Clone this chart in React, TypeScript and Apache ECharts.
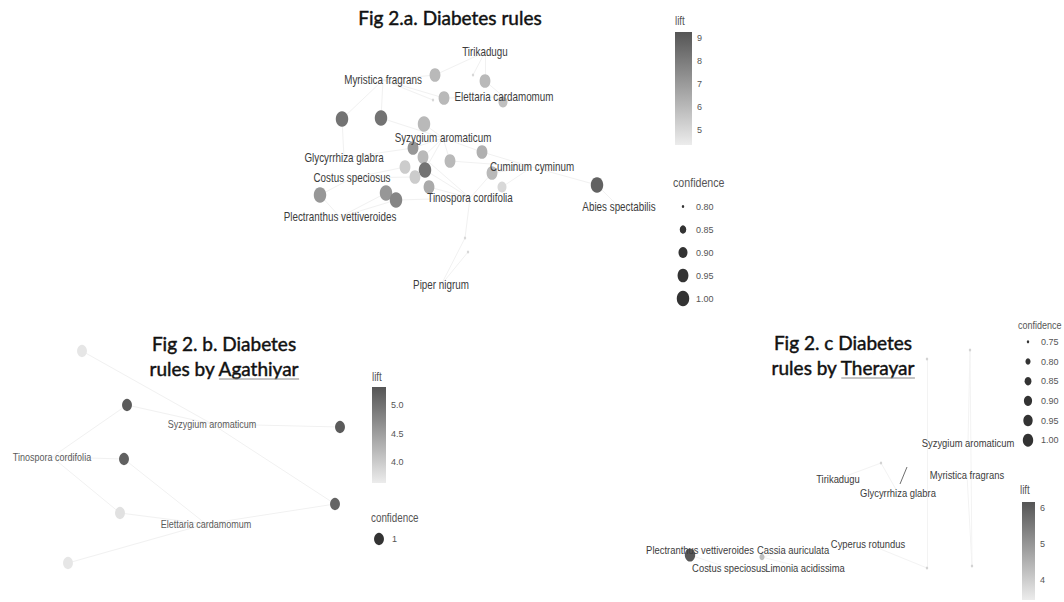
import React, { useEffect, useRef } from "react";
import * as echarts from "echarts";

const LABEL_FONT = "'Liberation Sans', Arial, sans-serif";
const TITLE_FONT = "Lato, 'Open Sans', sans-serif";
const SQUEEZE = 0.82;

// ---------- Panel A: Diabetes rules (layout units) ----------
const itemsA = [
  "Tirikadugu", "Myristica fragrans", "Elettaria cardamomum", "Syzygium aromaticum",
  "Glycyrrhiza glabra", "Cuminum cyminum", "Costus speciosus", "Tinospora cordifolia",
  "Plectranthus vettiveroides", "Abies spectabilis", "Piper nigrum",
];
const itemPosA = [
  [205, 12], [103, 40], [224, 57], [163, 98], [64, 118], [252, 127],
  [72, 138], [190, 158], [60, 177], [339, 167], [161, 245],
];
const rulePosA = [
  [155, 35], [205, 41], [164, 58], [223, 62], [62, 79], [101, 78], [144, 84],
  [133, 108], [143, 117], [125, 127], [145, 130], [135, 137], [149, 147],
  [170, 121], [202, 112], [212, 133], [222, 147], [40, 155], [106, 153],
  [116, 160], [317, 145], [193, 35], [153, 60], [185, 198], [188, 212],
];
const ruleLiftA = [
  6.0, 6.0, 6.0, 5.8, 8.3, 8.3, 6.0, 7.1, 6.0, 5.4, 8.3, 5.4, 6.5,
  6.0, 6.3, 6.0, 5.0, 7.1, 7.1, 7.7, 8.85, 5.0, 5.0, 5.0, 5.0,
];
const ruleConfA = [
  0.95, 0.95, 0.95, 0.9, 1.0, 1.0, 1.0, 0.95, 0.95, 0.95, 1.0, 0.95, 0.95,
  0.95, 0.95, 0.95, 0.9, 1.0, 1.0, 1.0, 1.0, 0.8, 0.8, 0.8, 0.8,
];
const edgesA = [
  [0, 1], [0, 0], [1, 0], [1, 2], [2, 2], [2, 1], [3, 2], [4, 4], [4, 1], [5, 1], [5, 3],
  [6, 3], [7, 3], [7, 4], [8, 3], [8, 7], [9, 6], [10, 7], [10, 3], [11, 6], [12, 7],
  [13, 3], [13, 5], [14, 5], [14, 3], [15, 5], [15, 7], [16, 5], [17, 8], [17, 6],
  [18, 8], [19, 8], [19, 7], [20, 9], [20, 5], [21, 0], [22, 1], [23, 10], [23, 7], [24, 10],
];
const ruleEdgesA: number[][] = [];
const liftRangeA = [4.35, 9.26];
const liftTicksA = [5, 6, 7, 8, 9];
const confTicksA = [0.8, 0.85, 0.9, 0.95, 1.0];

// ---------- Panel B: Diabetes rules by Agathiyar ----------
const itemsB = ["Syzygium aromaticum", "Tinospora cordifolia", "Elettaria cardamomum"];
const itemPosB = [[212, 94], [52, 127], [206, 194]];
const rulePosB = [[82, 21], [127, 75], [124, 129], [340, 97], [335, 174], [120, 183], [68, 233]];
const ruleLiftB = [3.7, 5.25, 5.2, 5.25, 5.15, 3.75, 3.7];
const ruleConfB = [1, 1, 1, 1, 1, 1, 1];
const edgesB = [[0, 0], [1, 0], [1, 1], [2, 1], [2, 2], [3, 0], [4, 2], [4, 0], [5, 2], [5, 1], [6, 2]];
const ruleEdgesB: number[][] = [];
const liftRangeB = [3.63, 5.32];
const liftTicksB = [4.0, 4.5, 5.0];
const confTicksB = [1];

// ---------- Panel C: Diabetes rules by Therayar ----------
const itemsC = [
  "Syzygium aromaticum", "Myristica fragrans", "Tirikadugu", "Glycyrrhiza glabra",
  "Cyperus rotundus", "Plectranthus vettiveroides", "Cassia auriculata",
  "Costus speciosus", "Limonia acidissima",
];
const itemPosC = [
  [328, 113], [327, 145], [198, 149], [258, 163], [228, 214],
  [60, 220], [153, 220], [89, 238], [165, 238],
];
const rulePosC = [[50, 225], [122, 227], [330, 20], [287, 29], [241, 133], [287, 238], [332, 236]];
const ruleLiftC = [6.1, 4.3, 3.9, 3.9, 3.9, 3.9, 3.9];
const ruleConfC = [1.0, 0.8, 0.75, 0.75, 0.75, 0.75, 0.75];
const edgesC = [[0, 5], [0, 7], [1, 6], [1, 8], [4, 2], [4, 3], [5, 4], [6, 1], [2, 0]];
const ruleEdgesC = [[2, 6], [3, 5]];
const strongEdgeC = [[260, 154], [267, 137]];
const liftRangeC = [3.46, 6.16];
const liftTicksC = [4, 5, 6];
const confTicksC = [0.75, 0.8, 0.85, 0.9, 0.95, 1.0];

const LIGHT = 236;
const DARK = 85;

function grayFor(v: number, range: number[]) {
  const t = Math.max(0, Math.min(1, (v - range[0]) / (range[1] - range[0])));
  const c = Math.round(LIGHT - (LIGHT - DARK) * t);
  return `rgb(${c},${c},${c})`;
}

function sizeFor(c: number, ticks: number[], rmax: number) {
  const lo = ticks[0];
  const hi = ticks[ticks.length - 1];
  const t = hi === lo ? 1 : (c - lo) / (hi - lo);
  const rmin = 1.5;
  const r = Math.sqrt(rmin * rmin + (rmax * rmax - rmin * rmin) * t);
  return [2 * r * 0.8, 2 * r];
}

type Panel = {
  items: string[];
  itemPos: number[][];
  rulePos: number[][];
  ruleLift: number[];
  ruleConf: number[];
  edges: number[][];
  ruleEdges: number[][];
  liftRange: number[];
  confTicks: number[];
  rmax: number;
  labelSize: number;
  labelColor: string;
  edgeColor: string;
};

const panels: Panel[] = [
  { items: itemsA, itemPos: itemPosA, rulePos: rulePosA, ruleLift: ruleLiftA, ruleConf: ruleConfA, edges: edgesA, ruleEdges: ruleEdgesA, liftRange: liftRangeA, confTicks: confTicksA, rmax: 7.8, labelSize: 12, labelColor: "#3c3c3c", edgeColor: "#f1f1f1" },
  { items: itemsB, itemPos: itemPosB, rulePos: rulePosB, ruleLift: ruleLiftB, ruleConf: ruleConfB, edges: edgesB, ruleEdges: ruleEdgesB, liftRange: liftRangeB, confTicks: confTicksB, rmax: 6.2, labelSize: 11, labelColor: "#5a5a5a", edgeColor: "#f1f1f1" },
  { items: itemsC, itemPos: itemPosC, rulePos: rulePosC, ruleLift: ruleLiftC, ruleConf: ruleConfC, edges: edgesC, ruleEdges: ruleEdgesC, liftRange: liftRangeC, confTicks: confTicksC, rmax: 6.5, labelSize: 11.5, labelColor: "#3c3c3c", edgeColor: "#f3f3f3" },
];

const panelGrids = [
  { left: 280, top: 40, width: 360, height: 260 },
  { left: 0, top: 330, width: 360, height: 250 },
  { left: 640, top: 330, width: 400, height: 260 },
];
const barGrids = [
  { left: 675, top: 32, width: 17, height: 113 },
  { left: 372, top: 387, width: 14, height: 96 },
  { left: 1022, top: 502, width: 13, height: 98 },
];
const liftTicks = [liftTicksA, liftTicksB, liftTicksC];
const confGrids = [
  { left: 676, top: 195, width: 14, height: 115 },
  { left: 372, top: 529, width: 14, height: 20 },
  { left: 1021, top: 332, width: 14, height: 118 },
];

function measure(text: string, font: string) {
  const ctx = document.createElement("canvas").getContext("2d");
  if (!ctx) return text.length * 8;
  ctx.font = font;
  return ctx.measureText(text).width;
}

function buildOption() {
  const grid: any[] = [];
  const xAxis: any[] = [];
  const yAxis: any[] = [];
  const series: any[] = [];

  panels.forEach((p, k) => {
    const g = panelGrids[k];
    grid.push({ ...g });
    xAxis.push({ type: "value", gridIndex: k, min: 0, max: g.width, show: false });
    yAxis.push({ type: "value", gridIndex: k, min: 0, max: g.height, inverse: true, show: false });
    const edgeData = p.edges
      .map(([r, i]) => ({ coords: [p.rulePos[r], p.itemPos[i]] }))
      .concat(p.ruleEdges.map(([a, b]) => ({ coords: [p.rulePos[a], p.rulePos[b]] })));
    series.push({
      type: "lines",
      coordinateSystem: "cartesian2d",
      xAxisIndex: k,
      yAxisIndex: k,
      silent: true,
      z: 1,
      lineStyle: { color: p.edgeColor, width: 1, opacity: 1 },
      data: edgeData,
    });
    if (k === 2) {
      series.push({
        type: "lines",
        coordinateSystem: "cartesian2d",
        xAxisIndex: k,
        yAxisIndex: k,
        silent: true,
        z: 1,
        lineStyle: { color: "#6f6f6f", width: 1, opacity: 1 },
        data: [{ coords: strongEdgeC }],
      });
    }
    series.push({
      type: "scatter",
      xAxisIndex: k,
      yAxisIndex: k,
      clip: false,
      silent: true,
      z: 2,
      symbol: "circle",
      data: p.rulePos.map((pos, j) => ({
        value: [pos[0], pos[1], p.ruleLift[j], p.ruleConf[j]],
        symbolSize: sizeFor(p.ruleConf[j], p.confTicks, p.rmax),
        itemStyle: { color: grayFor(p.ruleLift[j], p.liftRange), opacity: 1 },
      })),
    });
    series.push({
      type: "custom",
      xAxisIndex: k,
      yAxisIndex: k,
      silent: true,
      clip: false,
      z: 3,
      encode: { x: 0, y: 1 },
      data: p.itemPos.map((pos) => [pos[0], pos[1]]),
      renderItem: (params: any, api: any) => {
        const pt = api.coord([api.value(0), api.value(1)]);
        return {
          type: "text",
          x: pt[0],
          y: pt[1],
          scaleX: SQUEEZE,
          style: {
            text: p.items[params.dataIndex],
            fill: p.labelColor,
            fontSize: p.labelSize,
            fontFamily: LABEL_FONT,
            align: "center",
            verticalAlign: "middle",
          },
        };
      },
    });
  });

  // colorbars
  panels.forEach((p, k) => {
    const gi = 3 + k;
    grid.push({ ...barGrids[k] });
    const ticks = liftTicks[k];
    xAxis.push({ type: "value", gridIndex: gi, min: 0, max: 1, show: false });
    yAxis.push({
      type: "value",
      gridIndex: gi,
      min: p.liftRange[0],
      max: p.liftRange[1],
      position: "right",
      axisLine: { show: false },
      splitLine: { show: false },
      axisTick: { show: true, inside: true, length: 3, lineStyle: { color: "#ffffff" }, customValues: ticks },
      axisLabel: {
        customValues: ticks,
        formatter: (v: number) => (k === 1 ? v.toFixed(1) : String(v)),
        fontSize: 9,
        color: "#555",
        margin: 5,
        fontFamily: LABEL_FONT,
      },
    });
    const light = grayFor(p.liftRange[0], p.liftRange);
    const dark = grayFor(p.liftRange[1], p.liftRange);
    series.push({
      type: "custom",
      xAxisIndex: gi,
      yAxisIndex: gi,
      silent: true,
      clip: false,
      encode: { x: 0, y: [1, 2] },
      data: [[0, p.liftRange[0], p.liftRange[1]]],
      renderItem: (params: any, api: any) => {
        const p1 = api.coord([0, api.value(2)]);
        const p2 = api.coord([1, api.value(1)]);
        return {
          type: "rect",
          shape: { x: p1[0], y: p1[1], width: p2[0] - p1[0], height: p2[1] - p1[1] },
          style: {
            fill: new echarts.graphic.LinearGradient(0, 0, 0, 1, [
              { offset: 0, color: dark },
              { offset: 1, color: light },
            ]),
          },
        };
      },
    });
  });

  // confidence legends
  panels.forEach((p, k) => {
    const gi = 6 + k;
    grid.push({ ...confGrids[k] });
    const ticks = p.confTicks;
    const step = ticks.length > 1 ? ticks[1] - ticks[0] : 0.1;
    xAxis.push({ type: "value", gridIndex: gi, min: 0, max: 1, show: false });
    yAxis.push({
      type: "value",
      gridIndex: gi,
      min: ticks[0] - step / 2,
      max: ticks[ticks.length - 1] + step / 2,
      inverse: true,
      position: "right",
      axisLine: { show: false },
      splitLine: { show: false },
      axisTick: { show: false },
      axisLabel: {
        customValues: ticks,
        formatter: (v: number) => (k === 1 ? String(Math.round(v)) : v.toFixed(2)),
        fontSize: 9,
        color: "#555",
        margin: 6,
        fontFamily: LABEL_FONT,
      },
    });
    series.push({
      type: "scatter",
      xAxisIndex: gi,
      yAxisIndex: gi,
      silent: true,
      clip: false,
      itemStyle: { color: "#000" },
      data: ticks.map((c) => ({ value: [0.5, c], symbolSize: sizeFor(c, ticks, p.rmax) })),
    });
  });

  const titleFont = `19px ${TITLE_FONT}`;
  const txt = (x: number, y: number, text: string, font: string, fill: string, align = "center", scaleX = 1, stroke = 0) => ({
    type: "text",
    x,
    y,
    scaleX,
    silent: true,
    style: {
      text, font, fill, align, textAlign: align, verticalAlign: "middle", textVerticalAlign: "middle",
      stroke: stroke ? fill : undefined,
      lineWidth: stroke,
    },
  });
  const underline = (cx: number, y: number, line: string, word: string) => {
    const total = measure(line, titleFont);
    const w = measure(word, titleFont);
    const x2 = cx + total / 2;
    return { type: "line", silent: true, shape: { x1: x2 - w, y1: y, x2, y2: y }, style: { stroke: "#8a8a8a", lineWidth: 1 } };
  };

  const graphic = [
    txt(450, 17, "Fig 2.a. Diabetes rules", titleFont, "#111", "center", 1, 0.45),
    txt(224, 343, "Fig 2. b. Diabetes", titleFont, "#111", "center", 1, 0.45),
    txt(224, 368, "rules by Agathiyar", titleFont, "#111", "center", 1, 0.45),
    txt(843, 342, "Fig 2. c Diabetes", titleFont, "#111", "center", 1, 0.45),
    txt(843, 367, "rules by Therayar", titleFont, "#111", "center", 1, 0.45),
    underline(224, 379, "rules by Agathiyar", "Agathiyar"),
    underline(843, 378, "rules by Therayar", "Therayar"),
    txt(675, 21, "lift", `12px ${LABEL_FONT}`, "#555", "left", SQUEEZE),
    txt(673, 183, "confidence", `13px ${LABEL_FONT}`, "#555", "left", SQUEEZE),
    txt(372, 377, "lift", `12px ${LABEL_FONT}`, "#555", "left", SQUEEZE),
    txt(371, 518, "confidence", `12px ${LABEL_FONT}`, "#555", "left", SQUEEZE),
    txt(1020, 490, "lift", `12px ${LABEL_FONT}`, "#555", "left", SQUEEZE),
    txt(1018, 325, "confidence", `11px ${LABEL_FONT}`, "#555", "left", SQUEEZE),
  ];

  return {
    animation: false,
    backgroundColor: "#ffffff",
    grid,
    xAxis,
    yAxis,
    series,
    graphic,
  };
}

export default function App() {
  const ref = useRef<HTMLDivElement>(null);
  useEffect(() => {
    if (!ref.current) return;
    const chart = echarts.init(ref.current, undefined, { renderer: "svg" });
    chart.setOption(buildOption() as any);
    return () => chart.dispose();
  }, []);
  return (
    <div
      ref={ref}
      style={{ position: "fixed", left: 0, top: 0, width: 1064, height: 602, background: "#fff" }}
    />
  );
}
